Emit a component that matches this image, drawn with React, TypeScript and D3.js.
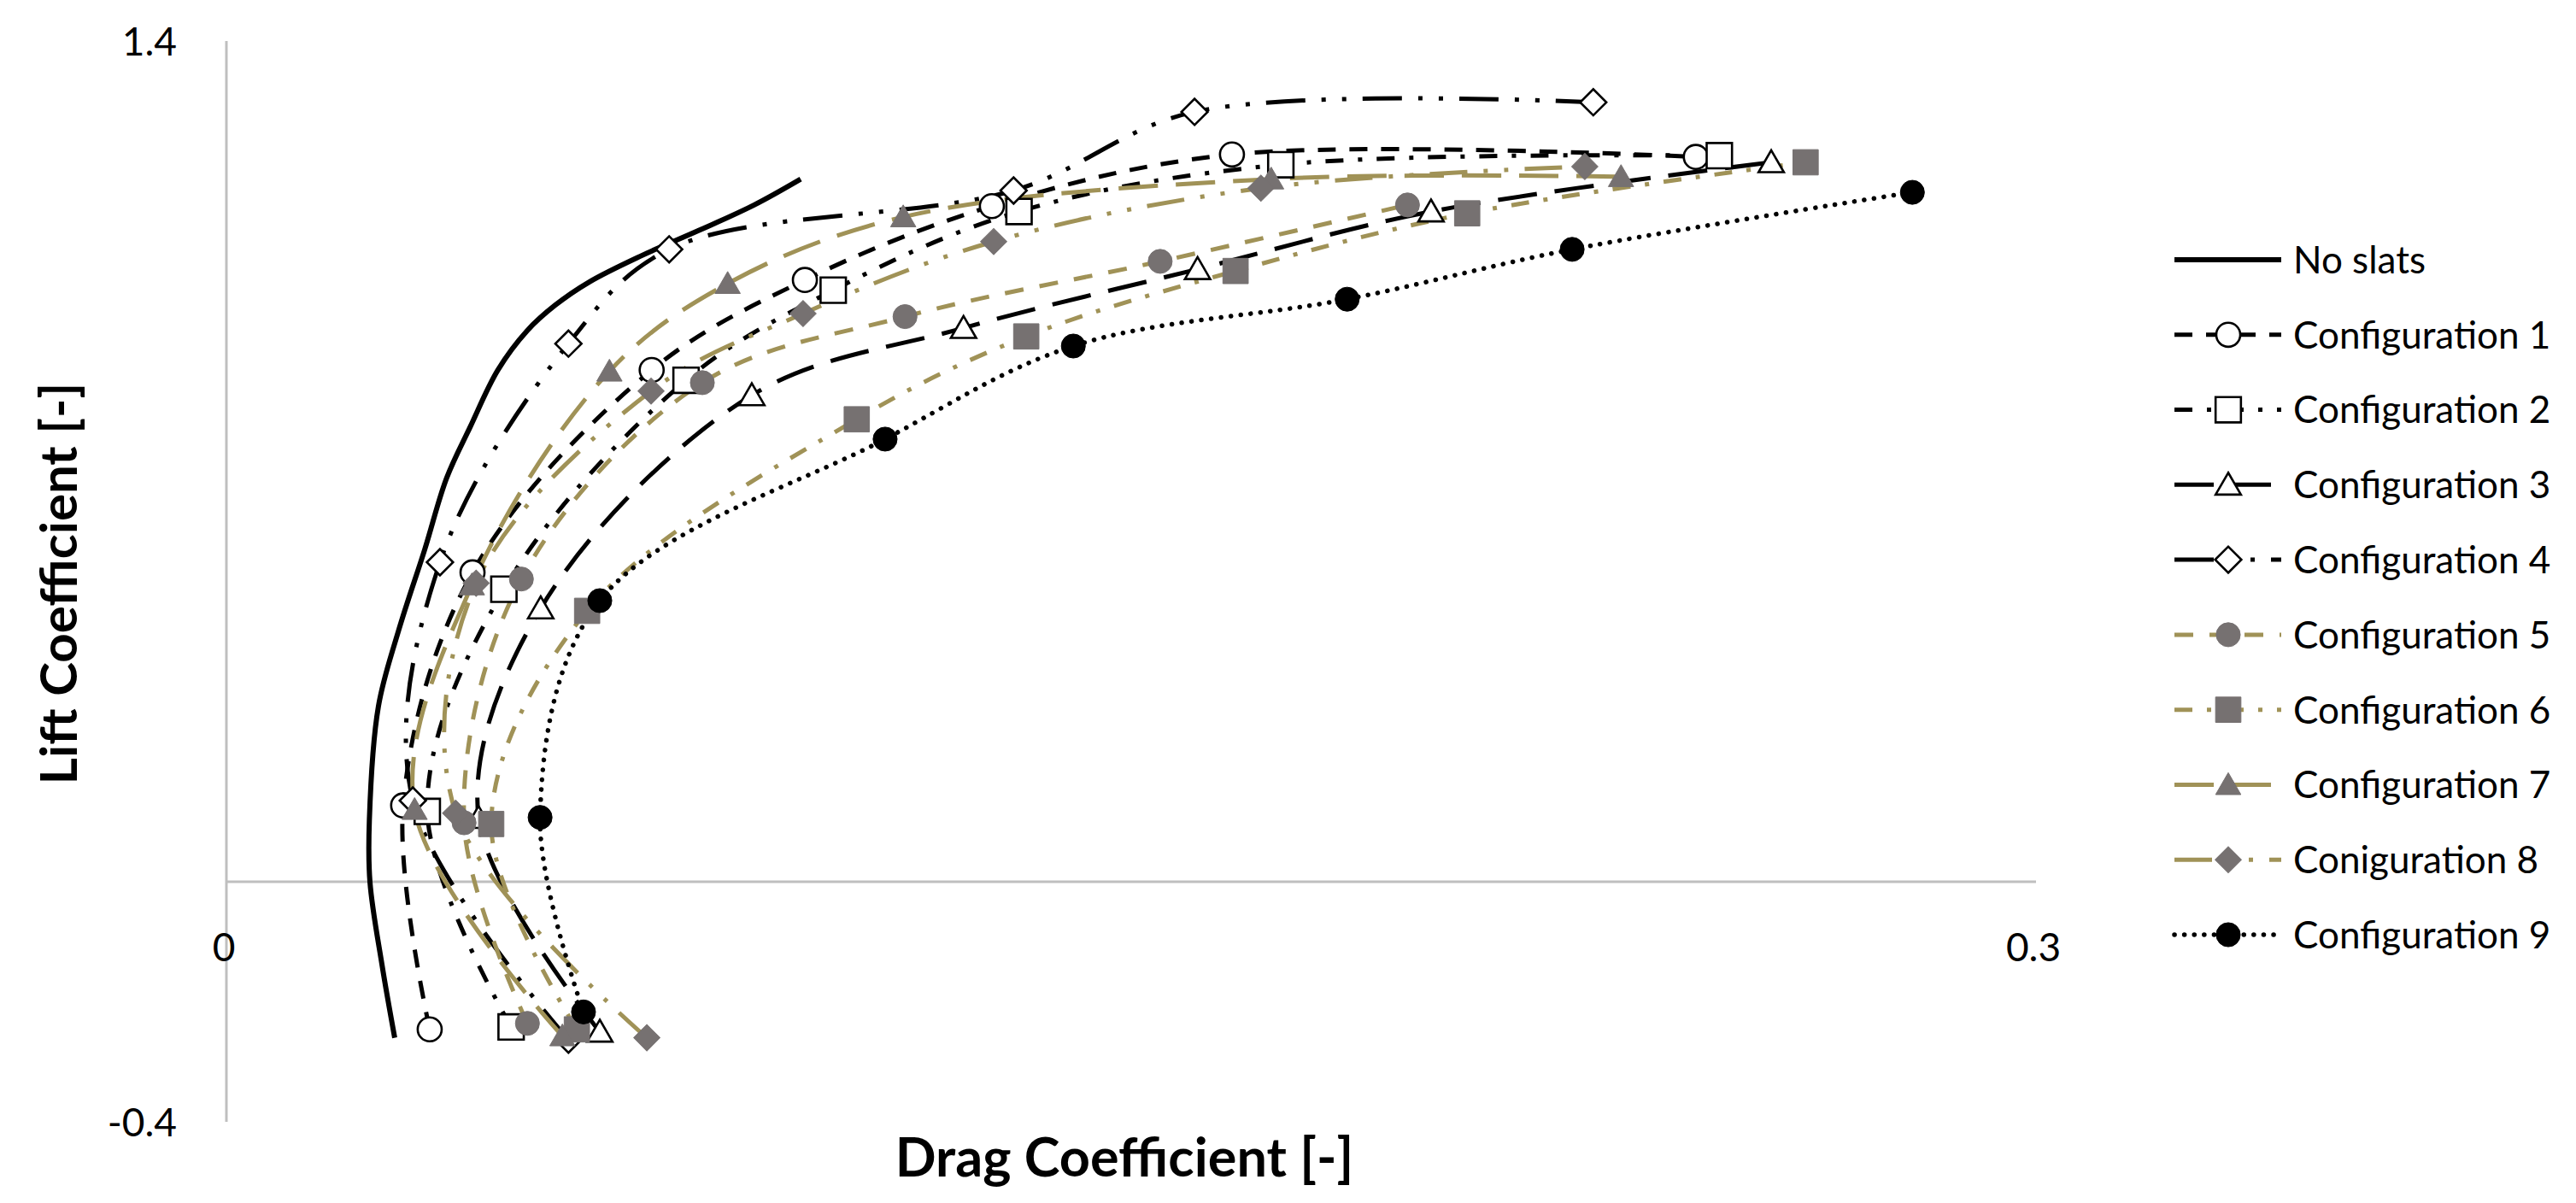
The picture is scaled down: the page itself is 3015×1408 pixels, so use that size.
import * as d3 from "d3";

// Drag / lift coefficient pairs
const noSlatsCd = [0.0279, 0.0258, 0.0238, 0.0237, 0.0252, 0.0286, 0.0329, 0.0365, 0.0404, 0.045, 0.0499, 0.0545, 0.0602, 0.0687, 0.0782, 0.0875, 0.0952];
const noSlatsCl = [-0.26, -0.139, -0.001, 0.103, 0.292, 0.42, 0.554, 0.672, 0.757, 0.852, 0.918, 0.96, 0.999, 1.042, 1.084, 1.127, 1.17];

const cd1 = [0.0337, 0.0293, 0.0408, 0.0705, 0.0959, 0.1269, 0.1667, 0.2436];
const cl1 = [-0.246, 0.127, 0.515, 0.852, 1.002, 1.125, 1.211, 1.207];
const cd2 = [0.0472, 0.0333, 0.046, 0.0762, 0.1006, 0.1314, 0.1748, 0.2475];
const cl2 = [-0.242, 0.117, 0.487, 0.835, 0.985, 1.116, 1.194, 1.209];
const cd3 = [0.0619, 0.0418, 0.0521, 0.0871, 0.1222, 0.161, 0.1997, 0.2561];
const cl3 = [-0.25, 0.106, 0.455, 0.81, 0.922, 1.02, 1.116, 1.198];
const cd4 = [0.0567, 0.0309, 0.0354, 0.0567, 0.0734, 0.1305, 0.1605, 0.2266];
const cl4 = [-0.263, 0.135, 0.532, 0.896, 1.053, 1.151, 1.282, 1.298];
const cd5 = [0.0499, 0.0394, 0.0489, 0.0789, 0.1125, 0.1548, 0.1958];
const cl5 = [-0.236, 0.098, 0.504, 0.831, 0.941, 1.033, 1.127];
const cd6 = [0.0581, 0.0439, 0.0598, 0.1045, 0.1326, 0.1673, 0.2057, 0.2618];
const cl6 = [-0.246, 0.096, 0.451, 0.77, 0.908, 1.017, 1.113, 1.198];
const cd7 = [0.0557, 0.0312, 0.0407, 0.0635, 0.0831, 0.1122, 0.1732, 0.2312];
const cl7 = [-0.257, 0.12, 0.494, 0.85, 0.996, 1.107, 1.17, 1.174];
const cd8 = [0.0697, 0.038, 0.0414, 0.0704, 0.0956, 0.1272, 0.1715, 0.2252];
const cl8 = [-0.26, 0.114, 0.497, 0.817, 0.946, 1.066, 1.155, 1.191];
const cd9 = [0.0592, 0.052, 0.0619, 0.1092, 0.1404, 0.1858, 0.2231, 0.2795];
const cl9 = [-0.217, 0.107, 0.468, 0.737, 0.892, 0.97, 1.053, 1.148];

const seriesNames = [
  "No slats",
  "Configuration 1",
  "Configuration 2",
  "Configuration 3",
  "Configuration 4",
  "Configuration 5",
  "Configuration 6",
  "Configuration 7",
  "Coniguration 8",
  "Configuration 9",
];

const xTicks = [0, 0.3];
const yTicks = [-0.4, 1.4];

const GOLD = "#A09257";
const GRAY = "#767171";

type Style = {
  cd: number[];
  cl: number[];
  color: string;
  width: number;
  dash: string;
  cap?: "round" | "butt";
  marker: "none" | "circle" | "square" | "triangle" | "diamond";
  fill: string;
  stroke: string;
};

const series: Style[] = [
  { cd: noSlatsCd, cl: noSlatsCl, color: "#000", width: 6, dash: "none", marker: "none", fill: "none", stroke: "none" },
  { cd: cd1, cl: cl1, color: "#000", width: 5, dash: "21 16", marker: "circle", fill: "#fff", stroke: "#000" },
  { cd: cd2, cl: cl2, color: "#000", width: 5, dash: "21 17 5 17", marker: "square", fill: "#fff", stroke: "#000" },
  { cd: cd3, cl: cl3, color: "#000", width: 5, dash: "46 21", marker: "triangle", fill: "#fff", stroke: "#000" },
  { cd: cd4, cl: cl4, color: "#000", width: 5, dash: "46 19 5 19 5 19", marker: "diamond", fill: "#fff", stroke: "#000" },
  { cd: cd5, cl: cl5, color: GOLD, width: 5, dash: "22 19", marker: "circle", fill: GRAY, stroke: GRAY },
  { cd: cd6, cl: cl6, color: GOLD, width: 5, dash: "21 17 5 17", marker: "square", fill: GRAY, stroke: GRAY },
  { cd: cd7, cl: cl7, color: GOLD, width: 5, dash: "46 21", marker: "triangle", fill: GRAY, stroke: GRAY },
  { cd: cd8, cl: cl8, color: GOLD, width: 5, dash: "44 19 5 19 5 19", marker: "diamond", fill: GRAY, stroke: GRAY },
  { cd: cd9, cl: cl9, color: "#000", width: 5.5, dash: "0.1 11.5", cap: "round", marker: "circle", fill: "#000", stroke: "#000" },
];

function markerPath(kind: string) {
  if (kind === "circle") return d3.symbol(d3.symbolCircle, 620)()!;
  if (kind === "square") return d3.symbol(d3.symbolSquare, 880)()!;
  if (kind === "triangle") return d3.symbol(d3.symbolTriangle, 380)()!;
  if (kind === "diamond") return d3.symbol(d3.symbolSquare, 470)()!;
  return "";
}

function Marker({ s, x, y }: { s: Style; x: number; y: number }) {
  if (s.marker === "none") return null;
  const rot = s.marker === "diamond" ? " rotate(45)" : "";
  const dy = s.marker === "triangle" ? 3 : 0;
  const open = s.fill === "#fff";
  return (
    <path
      d={markerPath(s.marker)}
      transform={`translate(${x},${y + dy})${rot}`}
      fill={s.fill}
      stroke={s.stroke}
      strokeWidth={open ? 2.6 : 1}
    />
  );
}

export default function App() {
  const width = 3015;
  const height = 1408;
  const x = d3.scaleLinear().domain([0, 0.3]).range([265, 2383]);
  const y = d3.scaleLinear().domain([-0.4, 1.4]).range([1313, 48]);

  const line = d3
    .line<[number, number]>()
    .x((d) => x(d[0]))
    .y((d) => y(d[1]))
    .curve(d3.curveCatmullRom.alpha(0.5));

  const legendY = d3.scaleLinear().domain([0, 9]).range([304, 1094]);
  const legendX0 = 2545;
  const legendX1 = 2670;
  const legendMid = 2608;

  const font = "Lato, 'Open Sans', sans-serif";
  const fmt = (t: number) => (t === 0 ? "0" : t.toFixed(1));

  return (
    <svg
      width={width}
      height={height}
      style={{ position: "fixed", left: 0, top: 0, background: "#fff" }}
    >
      <rect x={0} y={0} width={width} height={height} fill="#fff" />

      {/* axes */}
      <line x1={x(0)} x2={x(0)} y1={y(1.4)} y2={y(-0.4)} stroke="#BFBFBF" strokeWidth={3} />
      <line x1={x(0)} x2={x(0.3)} y1={y(0)} y2={y(0)} stroke="#BFBFBF" strokeWidth={3} />

      {yTicks.map((t) => (
        <text key={t} x={207} y={y(t)} dy="0.36em" textAnchor="end" fontFamily={font} fontSize={46} fill="#000">
          {fmt(t)}
        </text>
      ))}
      {xTicks.map((t) => (
        <text key={t} x={x(t) - 3} y={y(0) + 77} dy="0.36em" textAnchor="middle" fontFamily={font} fontSize={46} fill="#000">
          {fmt(t)}
        </text>
      ))}

      {/* axis titles */}
      <text
        transform={`translate(90,683) rotate(-90)`}
        textAnchor="middle"
        fontFamily={font}
        fontWeight={700}
        fontSize={60}
        fill="#000"
      >
        Lift Coefficient [-]
      </text>
      <text x={1316} y={1377} textAnchor="middle" fontFamily={font} fontWeight={700} fontSize={63} fill="#000">
        Drag Coefficient [-]
      </text>

      {/* series lines */}
      {series.map((s, i) => (
        <path
          key={`l${i}`}
          d={line(s.cd.map((v, j) => [v, s.cl[j]] as [number, number])) ?? ""}
          fill="none"
          stroke={s.color}
          strokeWidth={s.width}
          strokeDasharray={s.dash}
          strokeLinecap={s.cap ?? "butt"}
        />
      ))}

      {/* markers */}
      {series.map((s, i) => (
        <g key={`m${i}`}>
          {s.cd.map((v, j) => (
            <Marker key={j} s={s} x={x(v)} y={y(s.cl[j])} />
          ))}
        </g>
      ))}

      {/* legend */}
      {series.map((s, i) => {
        const ly = legendY(i);
        return (
          <g key={`lg${i}`}>
            <line
              x1={legendX0}
              x2={legendX1}
              y1={ly}
              y2={ly}
              stroke={s.color}
              strokeWidth={s.width}
              strokeDasharray={s.dash}
              strokeLinecap={s.cap ?? "butt"}
            />
            <Marker s={s} x={legendMid} y={ly} />
            <text x={2684} y={ly} dy="0.36em" fontFamily={font} fontSize={44} fill="#000">
              {seriesNames[i]}
            </text>
          </g>
        );
      })}
    </svg>
  );
}
